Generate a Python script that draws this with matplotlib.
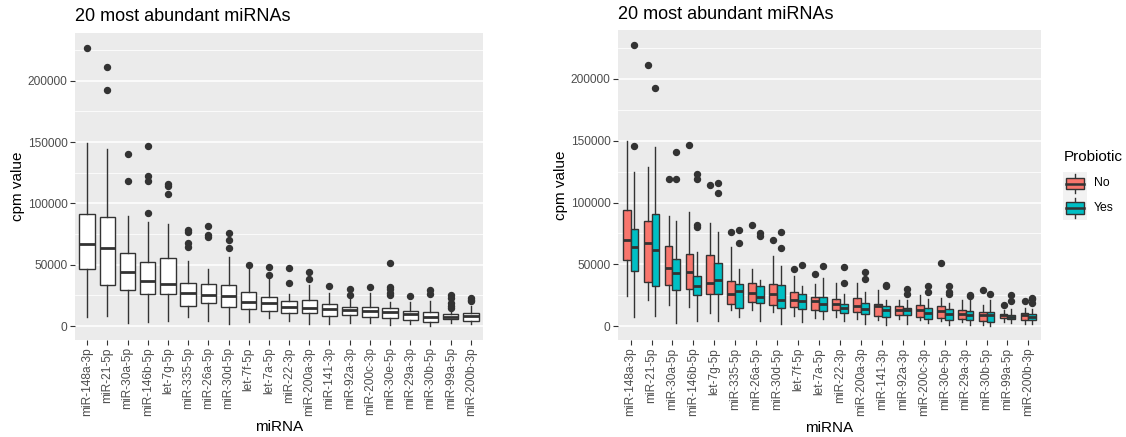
import numpy as np
import matplotlib.pyplot as plt
from matplotlib.patches import Rectangle

plt.rcParams['font.family'] = ['Liberation Sans', 'DejaVu Sans']

mirnas = ['miR-148a-3p', 'miR-21-5p', 'miR-30a-5p', 'miR-146b-5p', 'let-7g-5p',
          'miR-335-5p', 'miR-26a-5p', 'miR-30d-5p', 'let-7f-5p', 'let-7a-5p',
          'miR-22-3p', 'miR-200a-3p', 'miR-141-3p', 'miR-92a-3p', 'miR-200c-3p',
          'miR-30e-5p', 'miR-29a-3p', 'miR-30b-5p', 'miR-99a-5p', 'miR-200b-3p']

# all samples pooled (left panel)
all_whislo = [7300, 7800, 2200, 3500, 3800, 7300, 3800, 1900, 3200, 6200,
              4100, 1400, 1400, 2700, 2700, 500, 1400, 0, 2200, 1400]
all_q1 = [46300, 33800, 29500, 26500, 26000, 16500, 18700, 15400, 14100, 12200,
          10800, 10300, 7800, 9200, 7000, 6200, 4900, 3500, 5700, 4300]
all_med = [66600, 63600, 44100, 36500, 34600, 26800, 24900, 24400, 19800, 18700,
           15700, 14600, 14100, 12700, 12400, 11100, 9700, 7600, 7600, 8100]
all_q3 = [91200, 88800, 59500, 52000, 55500, 35200, 34100, 33600, 27900, 23800,
          20600, 21400, 17600, 15700, 15700, 14300, 12400, 11400, 9700, 10800]
all_whishi = [149600, 144500, 89300, 84400, 83100, 52800, 46500, 56600, 47400, 39200,
              26000, 33800, 27100, 22200, 27100, 19800, 19500, 20300, 12200, 16000]
all_out = [[226500], [211000, 192700], [140400, 118500], [146700, 122600, 118300, 92500],
           [116100, 114500, 107400], [77900, 76300, 67400, 64400], [81200, 74100, 72800],
           [75500, 69800, 63600], [49800], [48400, 41900], [47400, 35400], [43800, 38400],
           [33000], [30300, 25400], [31700], [51400, 31900, 29800, 27100, 25400],
           [24600], [29500, 25700], [25200, 22500, 18900, 16200, 14900], [23000, 21600, 20000]]

# Probiotic = No
no_whislo = [24200, 20900, 17500, 15600, 11000, 12900, 12900, 11500, 8100, 7000,
             7500, 6200, 5400, 6200, 4800, 4000, 3500, 800, 3500, 2100]
no_q1 = [53200, 36200, 33300, 30100, 26300, 17700, 19600, 16900, 15300, 13400,
         12900, 11300, 8300, 9100, 7500, 6700, 5600, 4300, 6700, 5400]
no_med = [69800, 67400, 47500, 44000, 34900, 26300, 26600, 26300, 21500, 20100,
          17700, 16400, 16100, 13200, 13400, 12100, 9700, 8900, 8900, 8900]
no_q3 = [94000, 85400, 65200, 58300, 58000, 36800, 35400, 34100, 27700, 23600,
         22000, 23100, 18300, 16400, 16900, 16100, 12900, 11500, 10200, 10700]
no_whishi = [149800, 128300, 89400, 92600, 83200, 64400, 46500, 56900, 40300, 34400,
             35400, 35400, 29000, 21500, 25000, 22800, 20900, 16900, 12900, 15000]
no_out = [[], [211000], [118700], [146600], [114100], [76000], [81600], [69800],
          [46700], [42400], [], [], [], [], [], [51300], [], [29500], [17500], [20100]]

# Probiotic = Yes
yes_whislo = [7500, 8100, 2700, 4000, 4000, 7500, 4300, 2100, 3500, 6200,
              4300, 1600, 800, 2100, 2700, 800, 800, 0, 2700, 1600]
yes_q1 = [45100, 32800, 29000, 25000, 26300, 14800, 18800, 15000, 14000, 12100,
          10700, 10200, 7200, 9100, 6200, 5400, 5400, 3500, 5900, 4800]
yes_med = [63900, 61800, 43000, 32500, 37600, 28200, 23400, 21700, 20100, 18300,
           14800, 14200, 13400, 12900, 10700, 10200, 8900, 8900, 7500, 7500]
yes_q3 = [78400, 90800, 54200, 40300, 51300, 34100, 32500, 33300, 26300, 23600,
          18300, 19100, 16600, 15000, 15000, 14000, 12100, 11500, 9100, 10200]
yes_whishi = [124300, 145000, 85400, 59900, 76500, 46200, 37600, 49100, 33000, 38900,
              26300, 27700, 20900, 21500, 22300, 19100, 20900, 20900, 14200, 14200]
yes_out = [[226900, 145500], [192800], [140400, 118700], [123200, 118900, 82200, 80600],
           [115700, 107400], [77600, 67400], [75400, 73300], [76000, 63600], [49900],
           [48600], [47800, 35400], [44300, 38400], [33800, 32200], [30300, 25800],
           [32200, 27700], [32200, 27700, 25800], [25000, 24200], [26300],
           [25000, 20100], [22800, 22000, 18800]]

GREY20 = '#333333'
GREY30 = '#4D4D4D'
PANEL = '#EBEBEB'
COL_NO = '#F8766D'
COL_YES = '#00BFC4'


def make_stats(lo, q1, med, q3, hi, out):
    return [dict(whislo=a, q1=b, med=c, q3=d, whishi=e, fliers=f)
            for a, b, c, d, e, f in zip(lo, q1, med, q3, hi, out)]


def draw_box(ax, stats, pos, width, fill):
    ax.bxp(stats, positions=pos, widths=width, patch_artist=True, showcaps=False,
           boxprops=dict(facecolor=fill, edgecolor=GREY20, linewidth=1.0),
           medianprops=dict(color=GREY20, linewidth=2.0),
           whiskerprops=dict(color=GREY20, linewidth=1.0),
           flierprops=dict(marker='o', markerfacecolor=GREY20, markeredgecolor=GREY20,
                           markersize=4.3, linestyle='none'),
           manage_ticks=False, zorder=3)


def style_axes(ax):
    ax.set_facecolor(PANEL)
    for s in ax.spines.values():
        s.set_visible(False)
    ax.set_ylim(-11000, 239300)
    ax.set_xlim(0.4, len(mirnas) + 0.6)
    ax.set_yticks(np.arange(0, 200001, 50000))
    ax.set_yticks(np.arange(25000, 230000, 50000), minor=True)
    ax.grid(which='major', axis='y', color='white', linewidth=1.1, zorder=0)
    ax.grid(which='minor', axis='y', color='white', linewidth=0.55, zorder=0)
    ax.set_axisbelow(True)
    ax.set_xticks(np.arange(1, len(mirnas) + 1))
    ax.set_xticklabels(mirnas, rotation=90)
    ax.tick_params(axis='both', which='major', colors=GREY20, labelcolor=GREY30,
                   labelsize=8.6, length=3.5, width=0.8, pad=2)
    ax.tick_params(axis='y', which='minor', length=0)
    ax.set_ylabel('cpm value', fontsize=11, color='black', labelpad=2)
    ax.set_xlabel('miRNA', fontsize=11, color='black', labelpad=3)
    ax.set_title('20 most abundant miRNAs', fontsize=13, loc='left', pad=8)


fig = plt.figure(figsize=(11.26, 4.37), dpi=100)
x = np.arange(1, len(mirnas) + 1)

ax1 = fig.add_axes([75 / 1126, 1 - 339.5 / 437, 408 / 1126, 307 / 437])
draw_box(ax1, make_stats(all_whislo, all_q1, all_med, all_q3, all_whishi, all_out),
         x, 0.77, 'white')
style_axes(ax1)

ax2 = fig.add_axes([618 / 1126, 1 - 340 / 437, 423 / 1126, 310 / 437])
draw_box(ax2, make_stats(no_whislo, no_q1, no_med, no_q3, no_whishi, no_out),
         x - 0.1875, 0.375, COL_NO)
draw_box(ax2, make_stats(yes_whislo, yes_q1, yes_med, yes_q3, yes_whishi, yes_out),
         x + 0.1875, 0.375, COL_YES)
style_axes(ax2)

# legend drawn as ggplot-like keys
fig.text(1064 / 1126, 1 - 157 / 437, 'Probiotic', fontsize=11, va='center', ha='left')
for label, col, yc in [('No', COL_NO, 183.5), ('Yes', COL_YES, 208)]:
    kax = fig.add_axes([1063 / 1126, 1 - (yc + 12) / 437, 24 / 1126, 24 / 437])
    kax.set_xlim(0, 1)
    kax.set_ylim(0, 1)
    kax.axis('off')
    kax.add_patch(Rectangle((0, 0), 1, 1, facecolor='#F2F2F2', edgecolor='none'))
    kax.plot([0.5, 0.5], [0.1, 0.9], color=GREY20, linewidth=1.0)
    kax.add_patch(Rectangle((0.12, 0.26), 0.76, 0.48, facecolor=col,
                            edgecolor=GREY20, linewidth=1.0, zorder=3))
    kax.plot([0.12, 0.88], [0.5, 0.5], color=GREY20, linewidth=1.8, zorder=4)
    fig.text(1094 / 1126, 1 - yc / 437, label, fontsize=8.8, va='center', ha='left')

fig.savefig('out.png', dpi=100)
